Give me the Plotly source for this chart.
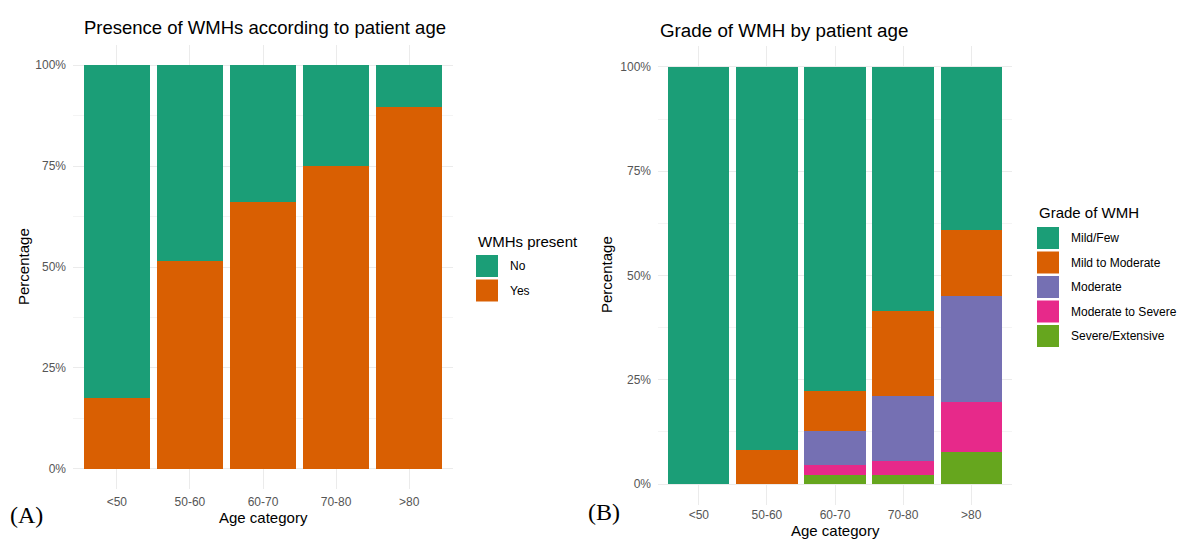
import plotly.graph_objects as go

# ---- data -------------------------------------------------------------
age_groups = ["<50", "50-60", "60-70", "70-80", ">80"]

# Panel A: share of patients with / without WMHs (%)
wmh_no = [82.5, 48.5, 33.8, 24.9, 10.3]
wmh_yes = [17.5, 51.5, 66.2, 75.1, 89.7]
presence_labels = ["No", "Yes"]

# Panel B: grade of WMH (%)
grade_labels = ["Mild/Few", "Mild to Moderate", "Moderate",
                "Moderate to Severe", "Severe/Extensive"]
mild_few = [100.0, 91.9, 77.7, 58.4, 39.1]
mild_to_moderate = [0.0, 8.1, 9.5, 20.4, 15.8]
moderate = [0.0, 0.0, 8.1, 15.6, 25.5]
moderate_to_severe = [0.0, 0.0, 2.4, 3.3, 11.9]
severe_extensive = [0.0, 0.0, 2.3, 2.3, 7.7]

pct_ticks = [0, 25, 50, 75, 100]
pct_minor = [12.5, 37.5, 62.5, 87.5]

# ---- styling ----------------------------------------------------------
W, H = 1180, 540
dark2 = ["#1B9E77", "#D95F02", "#7570B3", "#E7298A", "#66A61E"]
SANS = "Liberation Sans, Arial, sans-serif"
SERIF = "Liberation Serif, Times New Roman, serif"
GRID = "#EBEBEB"
GRID_MINOR = "#F4F4F4"
TICK_COLOR = "#555555"


def px_x(x):
    return x / W


def px_y(y):
    return 1 - y / H


fig = go.Figure()

# Panel A: stacked bars, "Yes" at the bottom
presence_values = [wmh_no, wmh_yes]
for idx in [1, 0]:
    fig.add_trace(go.Bar(
        x=age_groups, y=presence_values[idx], name=presence_labels[idx],
        marker=dict(color=dark2[idx], line=dict(width=0)),
        width=0.9, xaxis="x", yaxis="y", showlegend=False,
    ))

# Panel B: stacked bars, most severe grade at the bottom
grade_values = [mild_few, mild_to_moderate, moderate,
                moderate_to_severe, severe_extensive]
for idx in reversed(range(len(grade_labels))):
    fig.add_trace(go.Bar(
        x=age_groups, y=grade_values[idx], name=grade_labels[idx],
        marker=dict(color=dark2[idx], line=dict(width=0)),
        width=0.9, xaxis="x2", yaxis="y2", showlegend=False,
    ))


def x_axis(domain, anchor, standoff):
    return dict(
        domain=domain, anchor=anchor, type="category",
        categoryorder="array", categoryarray=age_groups,
        range=[-0.6, len(age_groups) - 0.4],
        showgrid=True, gridcolor=GRID, gridwidth=1,
        zeroline=False, showline=False, ticks="",
        tickfont=dict(family=SANS, size=12, color=TICK_COLOR),
        ticklabelstandoff=standoff, fixedrange=True,
    )


def y_axis(domain, anchor):
    return dict(
        domain=domain, anchor=anchor, range=[-5, 105],
        tickmode="array", tickvals=pct_ticks,
        ticktext=[f"{v}%" for v in pct_ticks],
        showgrid=True, gridcolor=GRID, gridwidth=1,
        minor=dict(tickmode="array", tickvals=pct_minor, showgrid=True,
                   gridcolor=GRID_MINOR, gridwidth=1, ticks=""),
        zeroline=False, showline=False, ticks="",
        tickfont=dict(family=SANS, size=12, color=TICK_COLOR),
        ticklabelstandoff=6, fixedrange=True,
    )


# panel rectangles (pixels): A x 73-453, y 45-489 ; B x 658-1012, y 46-505
fig.update_layout(
    width=W, height=H, autosize=False,
    margin=dict(l=0, r=0, t=0, b=0, pad=0),
    paper_bgcolor="white", plot_bgcolor="white",
    barmode="stack", bargap=0.1, showlegend=False,
    xaxis=x_axis([px_x(73), px_x(453)], "y", 4),
    yaxis=y_axis([px_y(489), px_y(45)], "x"),
    xaxis2=x_axis([px_x(658), px_x(1012)], "y2", 1),
    yaxis2=y_axis([px_y(505), px_y(46)], "x2"),
)

annotations = []


def text(x, y, s, size, color="#000000", family=SANS, xanchor="left",
         yanchor="middle", angle=0):
    annotations.append(dict(
        x=px_x(x), y=px_y(y), xref="paper", yref="paper", text=s,
        showarrow=False, xanchor=xanchor, yanchor=yanchor, textangle=angle,
        font=dict(family=family, size=size, color=color),
    ))


# titles
text(82, 28, "Presence of WMHs according to patient age", 18.5)
text(658, 30, "Grade of WMH by patient age", 18.8)

# axis titles
text(263, 517, "Age category", 15, xanchor="center")
text(835, 530.5, "Age category", 15, xanchor="center")
text(23, 267, "Percentage", 15, xanchor="center", angle=-90)
text(606, 275, "Percentage", 15, xanchor="center", angle=-90)

# panel tags
text(8, 515, "(A)", 24, family=SERIF)
text(586, 512, "(B)", 24, family=SERIF)

# legends drawn as key squares + labels
shapes = []
KEY, PITCH = 22, 24.5


def legend(x0, title_y, first_key_top, labels, colors, title):
    text(x0, title_y, title, 15)
    for i, (lab, col) in enumerate(zip(labels, colors)):
        top = first_key_top + i * PITCH
        shapes.append(dict(
            type="rect", xref="paper", yref="paper",
            x0=px_x(x0), x1=px_x(x0 + KEY),
            y0=px_y(top + KEY), y1=px_y(top),
            fillcolor=col, line=dict(width=0), layer="above",
        ))
        text(x0 + KEY + 10, top + KEY / 2, lab, 12)


legend(476, 241, 255, presence_labels, dark2[:2], "WMHs present")
legend(1037, 212, 227, grade_labels, dark2, "Grade of WMH")

fig.update_layout(annotations=annotations, shapes=shapes)

fig.write_html("out.html")
